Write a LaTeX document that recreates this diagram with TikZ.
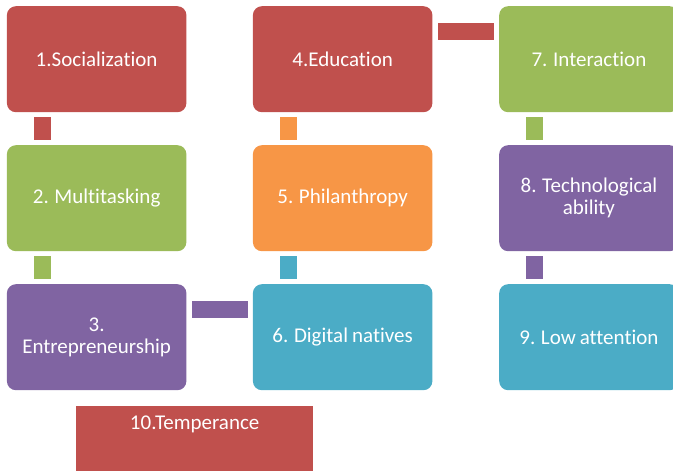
\documentclass[tikz,border=0pt]{standalone}
\usepackage{fontspec}
\setmainfont{Carlito}[Ligatures={NoCommon}, WordSpace=0.85]
\definecolor{cred}{HTML}{C0504D}
\definecolor{cgreen}{HTML}{9BBB59}
\definecolor{cpurple}{HTML}{8064A2}
\definecolor{corange}{HTML}{F79646}
\definecolor{caqua}{HTML}{4BACC6}
\begin{document}
\begin{tikzpicture}[x=1pt,y=-1pt,
  box/.style={rectangle, rounded corners=9pt, minimum width=179.5pt, minimum height=106pt,
    anchor=north west, text=white, font=\fontsize{21}{22}\selectfont, align=center, inner sep=0pt},
  link/.style={line width=17pt, shorten <=5pt, shorten >=5pt},
  hlink/.style={line width=17pt, shorten <=5.5pt, shorten >=5pt}]
\useasboundingbox (0,0) rectangle (673,471);
\clip (0,0) rectangle (673,471);
\node[box, fill=cred]    (b1) at (6.7,6)     {1.Socialization};
\node[box, fill=cgreen]  (b2) at (6.7,145)   {2. Multitasking};
\node[box, fill=cpurple] (b3) at (6.7,284)   {3.\\Entrepreneurship};
\node[box, fill=cred]    (b4) at (252.7,6)   {4.Education};
\node[box, fill=corange] (b5) at (252.7,145) {5. Philanthropy};
\node[box, fill=caqua]   (b6) at (252.7,284) {6. Digital natives};
\node[box, fill=cgreen]  (b7) at (499,6)     {7. Interaction};
\node[box, fill=cpurple] (b8) at (499,145)   {8. Technological\\ability};
\node[box, fill=caqua]   (b9) at (499,284)   {9. Low attention};
\node[rectangle, fill=cred, minimum width=237pt, minimum height=80pt, anchor=north west, inner sep=0pt] (b10) at (76,406) {};
\node[text=white, font=\fontsize{21}{22}\selectfont, inner sep=0pt] (t10) at ([yshift=-18pt]b10.north) {10.Temperance};
% vertical connectors
\draw[link, cred]    ([xshift=-54.5pt]b1.south) -- ([xshift=-54.5pt]b2.north);
\draw[link, cgreen]  ([xshift=-54.5pt]b2.south) -- ([xshift=-54.5pt]b3.north);
\draw[link, corange] ([xshift=-54.5pt]b4.south) -- ([xshift=-54.5pt]b5.north);
\draw[link, caqua]   ([xshift=-54.5pt]b5.south) -- ([xshift=-54.5pt]b6.north);
\draw[link, cgreen]  ([xshift=-54.5pt]b7.south) -- ([xshift=-54.5pt]b8.north);
\draw[link, cpurple] ([xshift=-54.5pt]b8.south) -- ([xshift=-54.5pt]b9.north);
% horizontal connectors
\draw[hlink, cred]    ([yshift=-25.5pt]b4.north east) -- ([yshift=-25.5pt]b7.north west);
\draw[hlink, cpurple] ([yshift=-25pt]b3.north east) -- ([yshift=-25pt]b6.north west);
\end{tikzpicture}
\end{document}
